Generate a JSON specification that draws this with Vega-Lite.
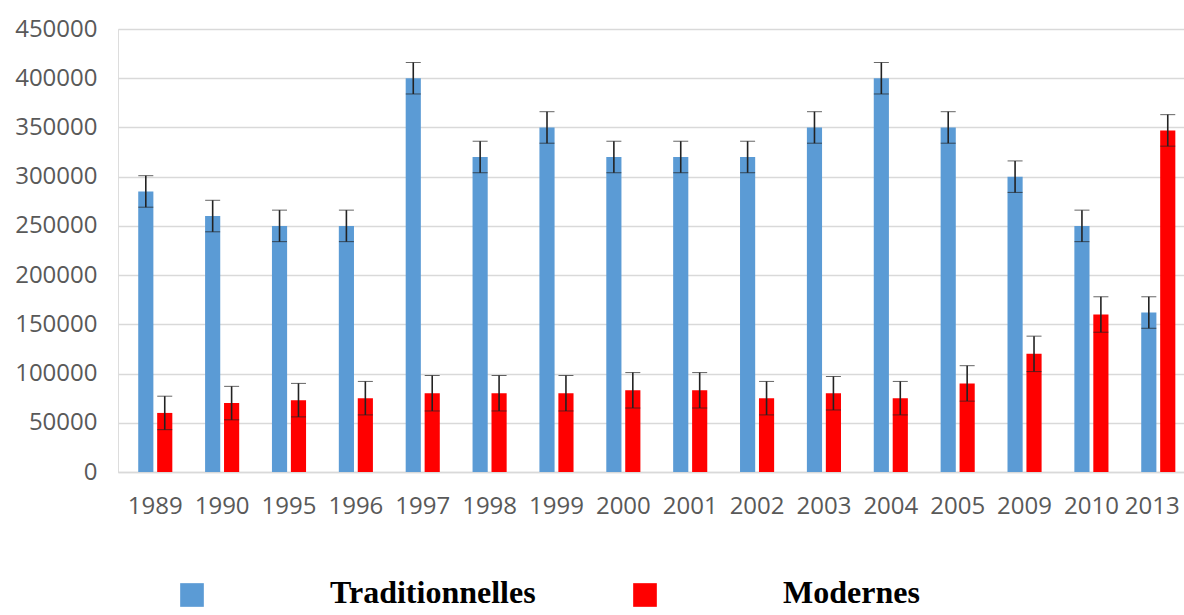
{
  "$schema": "https://vega.github.io/schema/vega-lite/v6.json",
  "autosize": "none",
  "padding": {"left": 118, "top": 29, "right": 0, "bottom": 143},
  "width": 1066,
  "height": 443,
  "background": "white",
  "data": {"values": [
    {"year": "1989", "type": "Traditionnelles", "value": 285000, "err": 16000},
    {"year": "1989", "type": "Modernes", "value": 60000, "err": 17000},
    {"year": "1990", "type": "Traditionnelles", "value": 260000, "err": 16000},
    {"year": "1990", "type": "Modernes", "value": 70000, "err": 17000},
    {"year": "1995", "type": "Traditionnelles", "value": 250000, "err": 16000},
    {"year": "1995", "type": "Modernes", "value": 73000, "err": 17000},
    {"year": "1996", "type": "Traditionnelles", "value": 250000, "err": 16000},
    {"year": "1996", "type": "Modernes", "value": 75000, "err": 17000},
    {"year": "1997", "type": "Traditionnelles", "value": 400000, "err": 16000},
    {"year": "1997", "type": "Modernes", "value": 80000, "err": 18000},
    {"year": "1998", "type": "Traditionnelles", "value": 320000, "err": 16000},
    {"year": "1998", "type": "Modernes", "value": 80000, "err": 18000},
    {"year": "1999", "type": "Traditionnelles", "value": 350000, "err": 16000},
    {"year": "1999", "type": "Modernes", "value": 80000, "err": 18000},
    {"year": "2000", "type": "Traditionnelles", "value": 320000, "err": 16000},
    {"year": "2000", "type": "Modernes", "value": 83000, "err": 18000},
    {"year": "2001", "type": "Traditionnelles", "value": 320000, "err": 16000},
    {"year": "2001", "type": "Modernes", "value": 83000, "err": 18000},
    {"year": "2002", "type": "Traditionnelles", "value": 320000, "err": 16000},
    {"year": "2002", "type": "Modernes", "value": 75000, "err": 17000},
    {"year": "2003", "type": "Traditionnelles", "value": 350000, "err": 16000},
    {"year": "2003", "type": "Modernes", "value": 80000, "err": 17000},
    {"year": "2004", "type": "Traditionnelles", "value": 400000, "err": 16000},
    {"year": "2004", "type": "Modernes", "value": 75000, "err": 17000},
    {"year": "2005", "type": "Traditionnelles", "value": 350000, "err": 16000},
    {"year": "2005", "type": "Modernes", "value": 90000, "err": 18000},
    {"year": "2009", "type": "Traditionnelles", "value": 300000, "err": 16000},
    {"year": "2009", "type": "Modernes", "value": 120000, "err": 18000},
    {"year": "2010", "type": "Traditionnelles", "value": 250000, "err": 16000},
    {"year": "2010", "type": "Modernes", "value": 160000, "err": 18000},
    {"year": "2013", "type": "Traditionnelles", "value": 162000, "err": 16000},
    {"year": "2013", "type": "Modernes", "value": 347000, "err": 16000}
  ]},
  "encoding": {
    "x": {
      "field": "year", "type": "nominal", "sort": null, "title": null,
      "scale": {"paddingInner": 0.49, "paddingOuter": 0.216, "align": 0.7},
      "axis": {"labelAngle": 0, "labelFont": "Open Sans", "labelFontSize": 24, "labelColor": "#595959", "labelPadding": 22, "ticks": false, "domainColor": "#d9d9d9", "domainWidth": 1.5, "grid": false,
        "labelOffset": {"condition": {"test": "datum.value === '2013'", "value": -6}, "value": 0}}
    },
    "xOffset": {"field": "type", "type": "nominal", "sort": ["Traditionnelles", "Modernes"], "scale": {"paddingInner": 0.2, "paddingOuter": 0}},
    "y": {
      "field": "value", "type": "quantitative", "title": null,
      "scale": {"domain": [0, 450000], "nice": false},
      "axis": {"values": [0, 50000, 100000, 150000, 200000, 250000, 300000, 350000, 400000, 450000], "format": "d", "labelFont": "Open Sans", "labelFontSize": 24, "labelColor": "#595959", "labelPadding": 21, "ticks": false, "domain": false, "gridColor": "#d9d9d9", "gridWidth": 1.5}
    }
  },
  "layer": [
    {
      "mark": {"type": "bar"},
      "encoding": {
        "color": {
          "field": "type", "type": "nominal", "sort": ["Traditionnelles", "Modernes"],
          "scale": {"domain": ["Traditionnelles", "Modernes"], "range": ["#5b9bd5", "#ff0000"]},
          "legend": {
            "title": null, "orient": "none", "direction": "horizontal", "legendX": 58, "legendY": 550, "padding": 0,
            "symbolType": "square", "symbolSize": 560, "symbolStrokeWidth": 0, "symbolOpacity": 1,
            "labelFont": "Liberation Serif", "labelFontSize": 32, "labelFontWeight": "bold", "labelColor": "black",
            "labelOffset": 122, "labelLimit": 400, "columnPadding": 93,
            "encode": {
              "symbols": {"update": {"fill": [{"test": "datum.value === 'Traditionnelles'", "value": "#367dc7"}, {"value": "#ff0000"}]}},
              "labels": {"update": {"dy": {"value": -2}}}
            }
          }
        }
      }
    },
    {
      "mark": {"type": "errorbar", "ticks": {"size": 15, "color": "#222222", "strokeWidth": 1.8}, "rule": {"color": "#222222", "strokeWidth": 1.6}},
      "encoding": {
        "yError": {"field": "err"}
      }
    }
  ]
}
